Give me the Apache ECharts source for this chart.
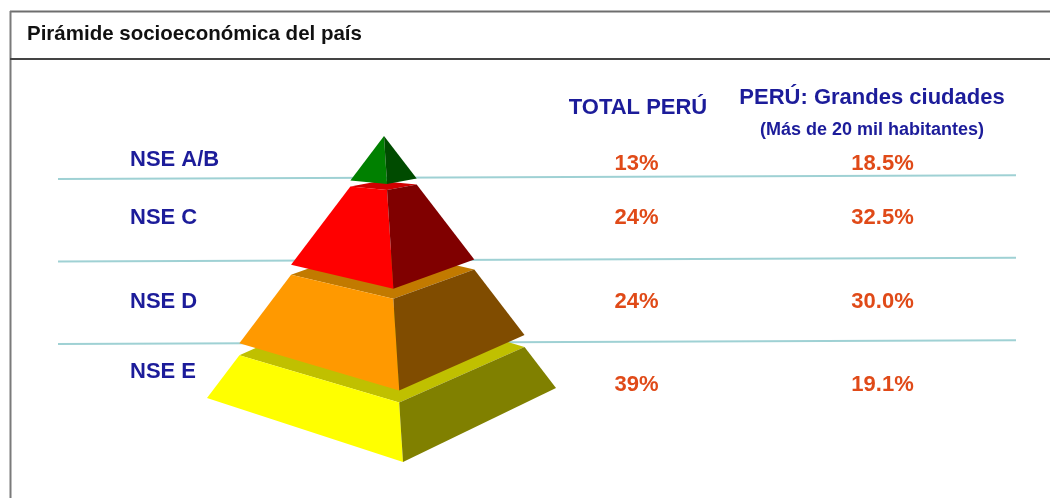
<!DOCTYPE html>
<html>
<head>
<meta charset="utf-8">
<script src="https://cdn.jsdelivr.net/npm/echarts@6/dist/echarts.min.js"></script>
<style>
html, body { margin: 0; padding: 0; background: #fff; }
#main { width: 1050px; height: 498px; }
</style>
</head>
<body>
<div id="main"></div>
<script>
// datos de la tabla
var niveles = ['NSE A/B', 'NSE C', 'NSE D', 'NSE E'];
var totalPeru = [13, 24, 24, 39];
var grandesCiudades = [18.5, 32.5, 30.0, 19.1];
// cortes de la piramide (0 = punta, 1 = base)
var capaInicio = [0, 0.19, 0.525, 0.817];
var capaFin = [0.19, 0.525, 0.817, 1];

var azul = '#1c1c9a';
var naranja = '#e04a18';
var fuente = '"Liberation Sans", Arial, sans-serif';

// colores de cada capa: [cara izq, cara der, tapa]
var coloresCapa = [
    ['#008000', '#004b00', '#006000'],
    ['#ff0000', '#800000', '#d00000'],
    ['#ff9900', '#804c00', '#c27a00'],
    ['#ffff00', '#808000', '#c0c000']
];
// separacion vertical de las capas (efecto "explotado")
var desplaz = [0, 6, 16, 28];
// esquinas de la base respecto a la punta: [x, y, curva]
var esquinas = { L: [-177, 234, 1], R: [172, 224, 1], F: [19, 298, 1.1] };

function punto(nombre, t, dy) {
    var e = esquinas[nombre];
    var k = Math.pow(t, e[2]);
    return [e[0] * k, e[1] * k + dy];
}

function dibujaCapa(params, api) {
    var i = params.dataIndex;
    var t0 = api.value(0), t1 = api.value(1);
    var dy = desplaz[i];
    var L0 = punto('L', t0, dy), F0 = punto('F', t0, dy), R0 = punto('R', t0, dy);
    var L1 = punto('L', t1, dy), F1 = punto('F', t1, dy), R1 = punto('R', t1, dy);
    var B0 = [L0[0] + R0[0] - F0[0], L0[1] + R0[1] - F0[1]];
    var c = coloresCapa[i];
    var z = 100 - i * 10;
    function poly(pts, color, z2) {
        return {
            type: 'polygon',
            z2: z2,
            shape: { points: pts.map(function (p) { return api.coord(p); }) },
            style: { fill: color, stroke: null }
        };
    }
    var hijos = [];
    if (t0 > 0) hijos.push(poly([L0, F0, R0, B0], c[2], z - 5));
    hijos.push(poly([L0, F0, F1, L1], c[0], z));
    hijos.push(poly([F0, R0, R1, F1], c[1], z));
    return { type: 'group', children: hijos };
}

// desplazamiento vertical de los textos en cada fila
var dyNivel = [22, -2, -1, -13];
var dyValor = [26, -2, -1, 0];

function serieTexto(xPos, dyFila, color, formato, alinear) {
    return {
        type: 'scatter',
        xAxisIndex: 0, yAxisIndex: 0,
        z: 3,
        symbolSize: 1,
        itemStyle: { color: 'rgba(0,0,0,0)', opacity: 1 },
        silent: true,
        data: dyFila.map(function (d, i) {
            return { value: [xPos, i + 0.5], label: { offset: [0, d] } };
        }),
        label: {
            show: true, position: 'inside', align: alinear, verticalAlign: 'middle',
            formatter: formato, opacity: 1,
            color: color, fontSize: 22, fontWeight: 'bold', fontFamily: fuente
        }
    };
}

var myChart = echarts.init(document.getElementById('main'));

var serieNiveles = serieTexto(72, dyNivel, azul, function (p) { return niveles[p.dataIndex]; }, 'left');
serieNiveles.markLine = {
    silent: true,
    z: 1,
    symbol: ['none', 'none'],
    label: { show: false },
    lineStyle: { color: '#9fd1d4', width: 2, type: 'solid', opacity: 1 },
    data: [1, 2, 3].map(function (k) {
        return [{ coord: [0, k] }, { coord: [958, k - 0.045] }];
    })
};

var option = {
    animation: false,
    backgroundColor: '#fff',
    grid: [
        { left: 58, width: 958, top: 96.5, height: 330 },
        { left: 184, width: 400, top: 136, height: 340 }
    ],
    xAxis: [
        { gridIndex: 0, type: 'value', min: 0, max: 958, show: false },
        { gridIndex: 1, type: 'value', min: -200, max: 200, show: false }
    ],
    yAxis: [
        { gridIndex: 0, type: 'value', min: 0, max: 4, inverse: true, show: false },
        { gridIndex: 1, type: 'value', min: 0, max: 340, inverse: true, show: false }
    ],
    graphic: [
        { type: 'line', shape: { x1: 10, y1: 11.5, x2: 1050, y2: 11.5 }, style: { stroke: '#6e6e6e', lineWidth: 2 } },
        { type: 'line', shape: { x1: 10.5, y1: 11, x2: 10.5, y2: 498 }, style: { stroke: '#7a7a7a', lineWidth: 2 } },
        { type: 'line', shape: { x1: 10, y1: 59, x2: 1050, y2: 59 }, style: { stroke: '#444', lineWidth: 2 } },
        { type: 'text', x: 27, y: 34, style: { text: 'Pirámide socioeconómica del país', fill: '#111', font: 'bold 20.5px ' + fuente, textVerticalAlign: 'middle' } },
        { type: 'text', x: 638, y: 108, style: { text: 'TOTAL PERÚ', fill: azul, font: 'bold 22px ' + fuente, textAlign: 'center', textVerticalAlign: 'middle' } },
        { type: 'text', x: 872, y: 98, style: { text: 'PERÚ: Grandes ciudades', fill: azul, font: 'bold 22px ' + fuente, textAlign: 'center', textVerticalAlign: 'middle' } },
        { type: 'text', x: 872, y: 130, style: { text: '(Más de 20 mil habitantes)', fill: azul, font: 'bold 18px ' + fuente, textAlign: 'center', textVerticalAlign: 'middle' } }
    ],
    series: [
        serieNiveles,
        serieTexto(578.5, dyValor, naranja, function (p) { return totalPeru[p.dataIndex] + '%'; }, 'center'),
        serieTexto(824.5, dyValor, naranja, function (p) { return grandesCiudades[p.dataIndex].toFixed(1) + '%'; }, 'center'),
        {
            type: 'custom',
            xAxisIndex: 1, yAxisIndex: 1,
            z: 10,
            silent: true,
            renderItem: dibujaCapa,
            encode: { x: 0, y: 1 },
            data: capaInicio.map(function (v, i) { return [v, capaFin[i]]; })
        }
    ]
};

myChart.setOption(option);
</script>
</body>
</html>
